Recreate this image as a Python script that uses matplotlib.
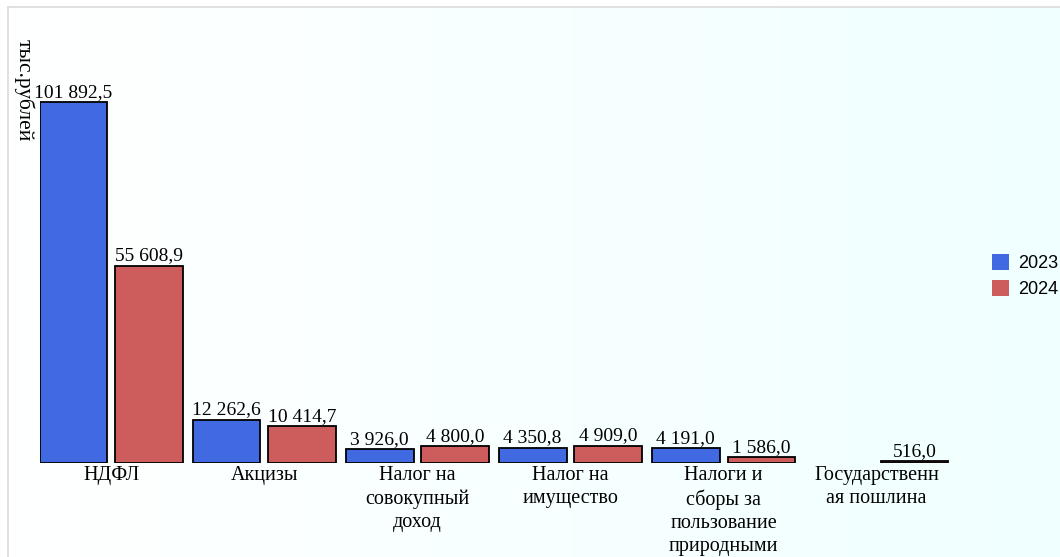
import matplotlib.pyplot as plt
import numpy as np

# данные (тыс. рублей)
categories = ["НДФЛ", "Акцизы", "Налог на\nсовокупный\nдоход", "Налог на\nимущество",
              "Налоги и\nсборы за\nпользование\nприродными", "Государственн\nая пошлина"]
vals_2023 = [101892.5, 12262.6, 3926.0, 4350.8, 4191.0, np.nan]
vals_2024 = [55608.9, 10414.7, 4800.0, 4909.0, 1586.0, 516.0]
series_names = ["2023", "2024"]
colors = ["#4169E1", "#CD5C5C"]

W, H = 1060, 557
fig = plt.figure(figsize=(W / 100, H / 100), dpi=100)

# фон: рамка и градиент белый -> azure
bg = fig.add_axes([8 / W, 0, 1 - 8 / W, 1 - 7 / H], zorder=-10)
grad = np.linspace(0, 1, 256).reshape(1, -1)
white = np.array([1.0, 1.0, 1.0])
azure = np.array([0xF0, 0xFF, 0xFF]) / 255
img = white[None, None, :] * (1 - grad[..., None]) + azure[None, None, :] * grad[..., None]
bg.imshow(img, aspect="auto", extent=[0, 1, 0, 1])
bg.set_xlim(0, 1)
bg.set_ylim(0, 1)
bg.set_xticks([])
bg.set_yticks([])
for s in ["right", "bottom"]:
    bg.spines[s].set_visible(False)
for s in ["left", "top"]:
    bg.spines[s].set_color("#dcdcdc")
    bg.spines[s].set_linewidth(1.2)

# основная область
left_px, right_px, base_px, top_px = 40, 950, 463, 8
ax = fig.add_axes([left_px / W, (H - base_px) / H, (right_px - left_px) / W, (base_px - top_px) / H])
ax.patch.set_alpha(0)
ymax = 101892.5 * (base_px - top_px) / 361
ax.set_ylim(0, ymax)
ax.set_xlim(-0.467, 5.48)
for s in ax.spines.values():
    s.set_visible(False)
ax.set_xticks([])
ax.set_yticks([])

x = np.arange(len(categories))
bw = 0.444
off = 0.248
serif = "Liberation Serif"

def fmt(v):
    return f"{v:,.1f}".replace(",", " ").replace(".", ",")

for vals, sign, col, name in [(vals_2023, -1, colors[0], series_names[0]),
                              (vals_2024, 1, colors[1], series_names[1])]:
    keep = [i for i, v in enumerate(vals) if not np.isnan(v)]
    xs = x[keep] + sign * off
    hs = [vals[i] for i in keep]
    ax.bar(xs, hs, width=bw, color=col, edgecolor="black", linewidth=1.3, label=name)
    for xi, v in zip(xs, hs):
        ax.annotate(fmt(v), (xi, v), xytext=(0, 1), textcoords="offset points",
                    ha="center", va="bottom", fontsize=14, family=serif)

for xi, c in zip(x, categories):
    ax.annotate(c, (xi, 0), xytext=(0, -2), textcoords="offset points",
                ha="center", va="top", fontsize=14.5, family=serif,
                linespacing=1.3, annotation_clip=False)

fig.text(24 / W, 1 - 39 / H, "тыс.рублей", rotation=270, ha="center", va="top",
         fontsize=15.5, family=serif)

leg = ax.legend(loc="upper left", bbox_to_anchor=(992 / W, 1 - 254 / H),
                bbox_transform=fig.transFigure, frameon=False,
                prop={"family": "Liberation Sans", "size": 13},
                handlelength=0.95, handleheight=0.95, handletextpad=0.5,
                labelspacing=0.45, borderaxespad=0, borderpad=0)
for h in leg.legend_handles:
    h.set_edgecolor("none")

fig.savefig("out.png", dpi=100)
